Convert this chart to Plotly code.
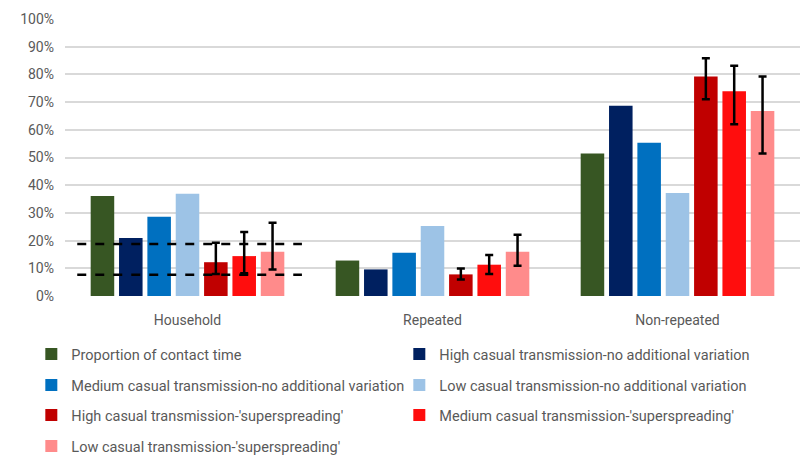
import plotly.graph_objects as go

# Contact settings on the x axis
categories = ["Household", "Repeated", "Non-repeated"]

# Series names (legend order)
series_names = [
    "Proportion of contact time",
    "High casual transmission-no additional variation",
    "Medium casual transmission-no additional variation",
    "Low casual transmission-no additional variation",
    "High casual transmission-'superspreading'",
    "Medium casual transmission-'superspreading'",
    "Low casual transmission-'superspreading'",
]

# Proportions (fraction) per series across the three settings
contact_time = [0.361, 0.128, 0.514]
high_noadd = [0.209, 0.096, 0.687]
medium_noadd = [0.286, 0.156, 0.553]
low_noadd = [0.369, 0.253, 0.372]
high_super = [0.122, 0.078, 0.792]
medium_super = [0.144, 0.113, 0.739]
low_super = [0.160, 0.160, 0.668]

# Interval bounds for the 'superspreading' series
high_super_upper = [0.192, 0.099, 0.858]
high_super_lower = [0.079, 0.060, 0.710]
medium_super_upper = [0.231, 0.148, 0.831]
medium_super_lower = [0.082, 0.079, 0.620]
low_super_upper = [0.264, 0.221, 0.792]
low_super_lower = [0.096, 0.109, 0.514]

# Reference range drawn across the household group
household_band = [0.077, 0.188]

colors = ["#375623", "#002060", "#0070C0", "#9DC3E6", "#C00000", "#FF0D0D", "#FF8B8B"]

values = [contact_time, high_noadd, medium_noadd, low_noadd,
          high_super, medium_super, low_super]
bounds = {
    4: (high_super_upper, high_super_lower),
    5: (medium_super_upper, medium_super_lower),
    6: (low_super_upper, low_super_lower),
}
legend_ids = ["legend", "legend", "legend2", "legend2", "legend3", "legend3", "legend4"]

GREY = "#595959"
FONT = "Roboto, Arial, sans-serif"

fig = go.Figure()
for i, (name, vals) in enumerate(zip(series_names, values)):
    err = None
    if i in bounds:
        up, lo = bounds[i]
        err = dict(
            type="data", symmetric=False,
            array=[u - v for u, v in zip(up, vals)],
            arrayminus=[v - l for v, l in zip(vals, lo)],
            color="black", thickness=2.5, width=4,
        )
    fig.add_trace(go.Bar(
        x=categories, y=vals, name=name,
        marker=dict(color=colors[i], line=dict(width=0)),
        error_y=err, legend=legend_ids[i],
    ))

# Dashed reference lines over the household bars
for level in household_band:
    fig.add_shape(type="line", xref="x", yref="y",
                  x0=-0.45, x1=0.467, y0=level, y1=level,
                  line=dict(color="black", width=2.5, dash="dash"))

legend_common = dict(
    orientation="h", xref="container", yref="container",
    xanchor="left", yanchor="middle", x=0.039,
    entrywidth=323, entrywidthmode="pixels",
    font=dict(family=FONT, size=14.5, color=GREY),
    bgcolor="rgba(0,0,0,0)", itemwidth=30, traceorder="normal",
)
rows_y = [354, 385, 415, 446]
fig.update_layout(
    width=803, height=456,
    margin=dict(l=65, r=3, t=19, b=160),
    paper_bgcolor="white", plot_bgcolor="white",
    barmode="group", bargap=0.19, bargroupgap=0.17,
    font=dict(family=FONT, size=14, color=GREY),
    legend=dict(legend_common, y=1 - rows_y[0] / 456),
    legend2=dict(legend_common, y=1 - rows_y[1] / 456),
    legend3=dict(legend_common, y=1 - rows_y[2] / 456),
    legend4=dict(legend_common, y=1 - rows_y[3] / 456),
    xaxis=dict(showline=False, ticks="", ticklabelstandoff=14,
               tickfont=dict(size=14, color=GREY)),
    yaxis=dict(range=[0, 1], dtick=0.1, tickformat=".0%",
               gridcolor="#D9D9D9", gridwidth=1.5, zeroline=False,
               ticklabelstandoff=10, tickfont=dict(size=14, color=GREY)),
)

fig.write_html("out.html")
